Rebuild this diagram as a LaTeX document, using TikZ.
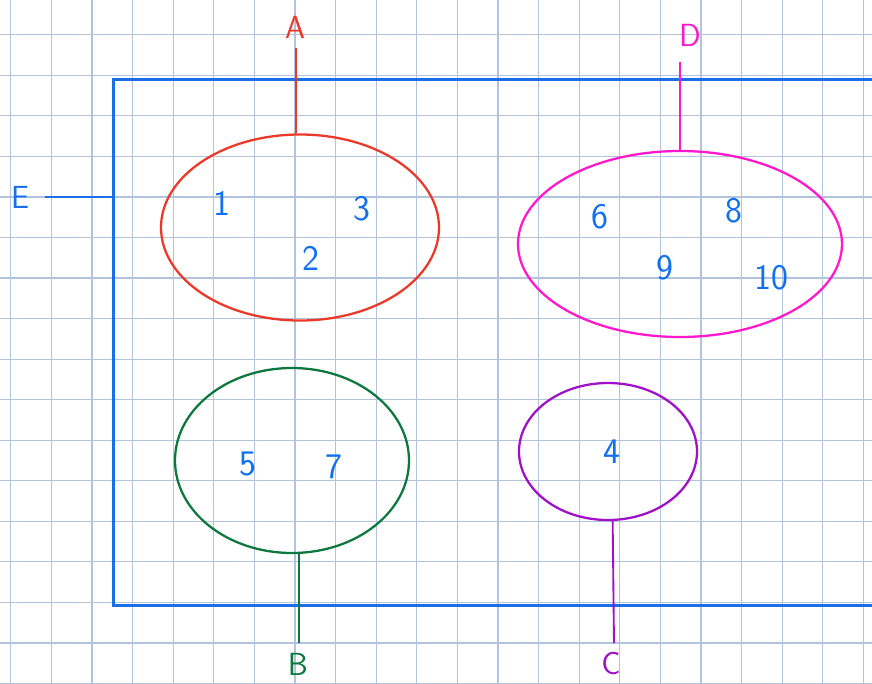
\documentclass[tikz,border=0pt]{standalone}
\usetikzlibrary{shapes.geometric}
\definecolor{gridblue}{RGB}{178,195,220}
\definecolor{boxblue}{RGB}{26,111,232}
\definecolor{numblue}{RGB}{16,112,240}
\definecolor{setred}{RGB}{236,56,40}
\definecolor{setmagenta}{RGB}{255,24,204}
\definecolor{setgreen}{RGB}{12,120,62}
\definecolor{setpurple}{RGB}{160,16,200}
\begin{document}
\begin{tikzpicture}[
    x=0.75pt, y=-0.75pt,
    gridline/.style={draw=gridblue, line width=0.9pt},
    setshape/.style={
        ellipse, draw, line width=1.7pt, inner sep=0pt
    },
    setlabel/.style={
        font=\fontsize{24}{26}\selectfont\sffamily, inner sep=1pt
    },
    member/.style={
        font=\fontsize{27}{29}\selectfont\sffamily, text=numblue
    },
    link/.style={line width=1.4pt}
]
\useasboundingbox (0,0) rectangle (872,683);
\clip (0,0) rectangle (872,683);
\fill[white] (0,0) rectangle (872,683);

% squared paper
\foreach \gx in {0,...,21}
    \draw[gridline] ({10.7+40.6*\gx},0) -- ({10.7+40.6*\gx},683);
\foreach \gy in {-1,...,16}
    \draw[gridline] (0,{34.7+40.55*\gy}) -- (872,{34.7+40.55*\gy});

% universe
\node[draw=boxblue, line width=2.2pt, minimum width=600pt,
    minimum height=394.5pt, inner sep=0pt, anchor=north west]
    (universe) at (112,78) {};
\node[setlabel, text=boxblue] (E) at (20,197) {E};
\coordinate (Eend) at (45,197);
\draw[link, boxblue] (Eend) -- (universe.west |- Eend);

% sets
\node[setshape, draw=setred, minimum width=208.5pt, minimum height=139.5pt]
    (setA) at (300,227.5) {};
\node[setshape, draw=setmagenta, minimum width=243pt, minimum height=139.5pt]
    (setD) at (680,244) {};
\node[setshape, draw=setgreen, minimum width=175.5pt, minimum height=138.75pt]
    (setB) at (292,460.5) {};
\node[setshape, draw=setpurple, minimum width=133.5pt, minimum height=102.75pt]
    (setC) at (608,451.5) {};

% set names
\node[setlabel, text=setred] (A) at (295,27) {A};
\node[setlabel, text=setmagenta] (D) at (690,35) {D};
\node[setlabel, text=setgreen, anchor=north] (B) at (298,652) {B};
\node[setlabel, text=setpurple, anchor=north] (C) at (611,651) {C};

\coordinate (Aend) at (296,48);
\coordinate (Dend) at (680,62);
\coordinate (Bend) at (299,643);
\coordinate (Cend) at (614,643);
\draw[link, setred] (Aend) -- (Aend |- setA.north);
\draw[link, setmagenta] (Dend) -- (Dend |- setD.north);
\draw[link, setgreen] (Bend) -- (Bend |- setB.south);
\draw[link, setpurple] (Cend) -- ([xshift=-1pt]Cend |- setC.south);

% elements
\node[member] (n1) at (222,203) {1};
\node[member] (n2) at (311,258) {2};
\node[member] (n3) at (362,209) {3};
\node[member] (n6) at (600,217) {6};
\node[member] (n8) at (734,211) {8};
\node[member] (n9) at (665,268) {9};
\node[member] (n10) at (771,278) {10};
\node[member] (n5) at (248,464) {5};
\node[member] (n7) at (334,467) {7};
\node[member] (n4) at (612,452) {4};
\end{tikzpicture}
\end{document}
